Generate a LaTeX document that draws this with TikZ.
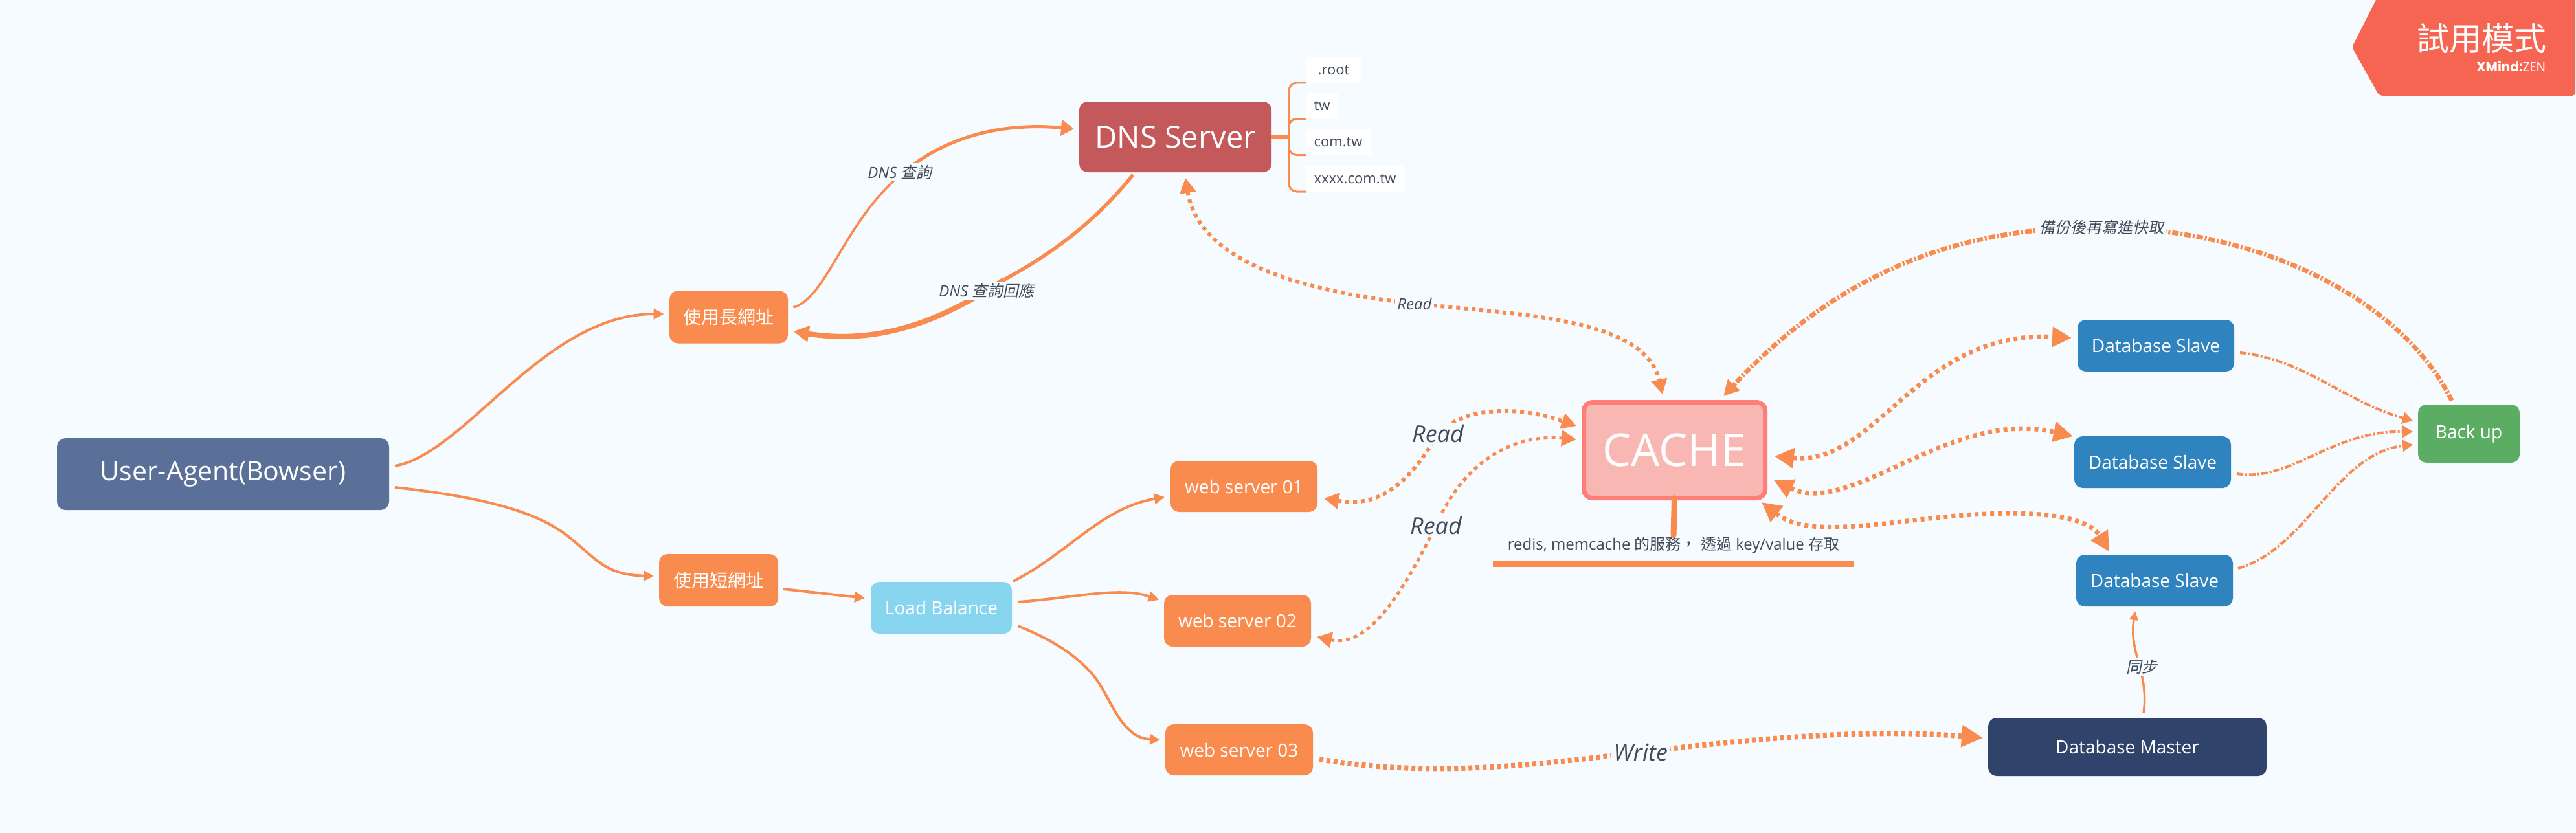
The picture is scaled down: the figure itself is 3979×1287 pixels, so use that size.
\documentclass[tikz,border=0pt]{standalone}
\usepackage{fontspec}
\usetikzlibrary{arrows.meta}
\setmainfont{Open Sans}
\newfontfamily\cjk{Noto Sans CJK TC}
\newfontfamily\cjkslant[FakeSlant=0.2]{Noto Sans CJK TC}
\newfontfamily\badgefont{Poppins}
\newcommand{\fsize}[1]{\fontsize{#1}{#1}\selectfont}
\definecolor{pagebg}{HTML}{F5FBFF}
\definecolor{linkc}{HTML}{F98B4F}
\definecolor{textc}{HTML}{414B58}
\definecolor{uac}{HTML}{5A7099}
\definecolor{dnsc}{HTML}{C4595C}
\definecolor{lbc}{HTML}{87D5EE}
\definecolor{slavec}{HTML}{2F84BF}
\definecolor{masterc}{HTML}{30436A}
\definecolor{backupc}{HTML}{5BAD63}
\definecolor{cachec}{HTML}{F8B7B2}
\definecolor{cacheb}{HTML}{FF7F78}
\definecolor{badgec}{HTML}{F56551}
\tikzset{
  box/.style={rounded corners=13pt,text=white,inner sep=0pt,outer sep=0pt,font=\fsize{28}},
  orangebox/.style={box,fill=linkc},
  slavebox/.style={box,fill=slavec,minimum width=242pt,minimum height=80pt},
  subbox/.style={fill=white,text=textc,inner sep=0pt,outer sep=0pt,minimum height=40pt,font=\fsize{22}},
  linklabel/.style={fill=pagebg,text=textc,inner sep=3pt,font=\fsize{24}\itshape},
  biglabel/.style={linklabel,font=\fsize{36}\itshape},
  thinlink/.style={draw=linkc,line width=4pt,-{Triangle[length=16pt,width=16pt]}},
  plainlink/.style={draw=linkc},
  dotlink/.style={draw=linkc,line width=7pt,dash pattern=on 6pt off 6pt,{Triangle[length=30pt,width=30pt]}-{Triangle[length=30pt,width=30pt]}},
  readlink/.style={draw=linkc,line width=5pt,dash pattern=on 6pt off 6pt,{Triangle[length=23pt,width=24pt]}-{Triangle[length=23pt,width=24pt]}},
  writelink/.style={draw=linkc,line width=8pt,dash pattern=on 6pt off 5pt,-{Triangle[length=33pt,width=32pt]}},
  dashdotlink/.style={draw=linkc,line width=4pt,dash pattern=on 10pt off 3pt on 3pt off 3pt,-{Triangle[length=16pt,width=18pt]}},
  branch/.style={draw=linkc,line width=3pt,rounded corners=12pt}
}
\begin{document}
\begin{tikzpicture}[x=1pt,y=-1pt]
  \fill[pagebg] (0,0) rectangle (3979,1287);
  \useasboundingbox (0,0) rectangle (3979,1287);

  \node[box,fill=uac,minimum width=513pt,minimum height=111pt,font=\fsize{41}] (ua) at (344.5,732.5) {User-Agent(Bowser)};
  \node[orangebox,minimum width=183pt,minimum height=81pt] (lurl) at (1125.5,490) {\cjk 使用長網址};
  \node[orangebox,minimum width=184pt,minimum height=81pt] (surl) at (1110,896.5) {\cjk 使用短網址};
  \node[box,fill=dnsc,minimum width=297pt,minimum height=109pt,font=\fsize{47}] (dns) at (1815.5,211.5) {DNS Server};
  \node[box,fill=lbc,minimum width=218pt,minimum height=80pt] (lb) at (1454,939) {Load Balance};
  \node[orangebox,minimum width=227pt,minimum height=79pt] (web1) at (1921.5,751.5) {web server 01};
  \node[orangebox,minimum width=227pt,minimum height=80pt] (web2) at (1911.5,959) {web server 02};
  \node[orangebox,minimum width=228pt,minimum height=79pt] (web3) at (1914,1158.5) {web server 03};
  \node[box,fill=cachec,draw=cacheb,line width=7pt,minimum width=280pt,minimum height=148pt,font=\fsize{70}] (cache) at (2586.5,695.5) {CACHE};
  \node[box,fill=masterc,minimum width=430pt,minimum height=90pt] (master) at (3286,1154) {Database Master};
  \node[box,fill=backupc,minimum width=157pt,minimum height=90pt] (backup) at (3813.5,670) {Back up};
  \foreach \n/\x/\y in {1/3330/534,2/3325/714,3/3328/897}
  {
    \node[slavebox] (slave\n) at (\x,\y) {Database Slave};
  }

  \coordinate (trunk) at ([xshift=27pt]dns.east);
  \draw[draw=linkc,line width=5pt] (dns.east) -- (trunk);
  \foreach \n/\t/\x/\y/\w in {root/.root/2060/108/86,tw/tw/2042/163.5/50,comtw/com.tw/2067/219.5/100,xxxx/xxxx.com.tw/2093/276/152}
  {
    \node[subbox,minimum width=\w pt] (\n) at (\x,\y) {\t};
    \draw[branch] (trunk) |- (\n.south west);
  }

  \draw[thinlink] ([shift={(9,-12.5)}]ua.east) .. controls (720,700) and (840,485) .. ([shift={(-8.5,-5)}]lurl.west);
  \draw[thinlink] ([shift={(9,20.5)}]ua.east) .. controls (700,763) and (810,780) .. (870,823) .. controls (920,860) and (930,888) .. ([shift={(-8,-6.5)}]surl.west);
  \draw[thinlink] ([shift={(8,13.5)}]surl.east) -- ([shift={(-9,-15)}]lb.west);
  \draw[thinlink] ([shift={(2,-41)}]lb.east) .. controls (1650,855) and (1700,785) .. ([shift={(-9,16.5)}]web1.west);
  \draw[thinlink] ([shift={(9,-9)}]lb.east) .. controls (1650,925) and (1730,905) .. ([shift={(-8,-32)}]web2.west);
  \draw[thinlink] ([shift={(9,28)}]lb.east) .. controls (1630,990) and (1665,1015) .. (1690,1045) .. controls (1715,1075) and (1730,1140) .. ([shift={(-8,-15.5)}]web3.west);
  % both DNS links get thicker towards their heads
  \draw[plainlink,line width=3.5pt] ([shift={(8.5,-15)}]lurl.east) .. controls (1276,460) and (1300,353) .. (1384,276);
  \draw[thinlink,line width=5pt,-{Triangle[length=20pt,width=24pt]}] (1384,276) .. controls (1440,225) and (1523,187) .. ([shift={(-8,-12.5)}]dns.west);
  \draw[plainlink,line width=5.5pt] ([shift={(-65.5,4)}]dns.south) .. controls (1690,345) and (1620,395) .. (1551,432);
  \draw[thinlink,line width=8pt,-{Triangle[length=24pt,width=24pt]}] (1551,432) .. controls (1470,485) and (1370,535) .. ([shift={(8.5,22)}]lurl.east);
  \draw[thinlink,line width=3.5pt,-{Triangle[length=14pt,width=13pt]}] ([shift={(25,-7)}]master.north) .. controls (3320,1040) and (3288,1010) .. ([shift={(-30,7)}]slave3.south);

  \draw[readlink,line width=6pt] ([shift={(15.5,9)}]dns.south) .. controls (1845,360) and (1910,440) .. (2185,469) .. controls (2350,487) and (2540,490) .. ([shift={(-18.5,-12.5)}]cache.north);
  \draw[readlink,line width=6pt] ([shift={(10,18.5)}]web1.east) .. controls (2120,783) and (2170,760) .. (2221,670) .. controls (2260,630) and (2340,625) .. ([shift={(-11.5,-37.5)}]cache.west);
  \draw[readlink] ([shift={(9,25)}]web2.east) .. controls (2110,1000) and (2160,930) .. (2218,812) .. controls (2260,715) and (2335,670) .. ([shift={(-11.5,-16.5)}]cache.west);
  \draw[dotlink] ([shift={(14.5,9.5)}]cache.east) .. controls (2900,720) and (2960,510) .. ([shift={(-9,-12)}]slave1.west);
  \draw[dotlink] ([shift={(13.5,46.5)}]cache.east) .. controls (2860,800) and (3010,630) .. ([shift={(-2,-40)}]slave2.west);
  \draw[dotlink] ([shift={(-5.5,80.5)}]cache.east) .. controls (2790,830) and (2890,810) .. (3000,799) .. controls (3110,788) and (3220,790) .. ([shift={(-70,-5)}]slave3.north);
  \draw[writelink] ([shift={(10,14.5)}]web3.east) .. controls (2200,1200) and (2350,1185) .. (2534,1162) .. controls (2700,1142) and (2880,1125) .. ([shift={(-8,-14)}]master.west);

  \draw[dashdotlink] ([shift={(9,11)}]slave1.east) .. controls (3560,555) and (3620,620) .. ([shift={(-8,-20)}]backup.west);
  \draw[dashdotlink] ([shift={(9,18)}]slave2.east) .. controls (3540,745) and (3600,665) .. ([shift={(-8,-3)}]backup.west);
  \draw[dashdotlink] ([shift={(8,-19)}]slave3.east) .. controls (3560,850) and (3610,700) .. ([shift={(-8,17)}]backup.west);
  \draw[dashdotlink,line width=7pt,-{Triangle[length=24pt,width=24pt]}] ([shift={(-26.5,-6)}]backup.north) .. controls (3720,480) and (3520,355) .. (3246,351) .. controls (3040,351) and (2850,410) .. ([shift={(75.5,-9.5)}]cache.north);

  \node[inner sep=0pt,minimum height=30pt,text=textc,font=\fsize{24}] (note) at (2585,842) {redis, memcache {\cjk 的服務，} {\cjk 透過} key/value {\cjk 存取}};
  \node[fill=linkc,inner sep=0pt,minimum width=558pt,minimum height=10pt] (noteline) at (2585,871) {};
  \draw[draw=linkc,line width=9pt,line cap=round] (cache.south) -- (note.north);

  \node[linklabel] (lblquery) at (1390,266) {DNS {\cjkslant 查詢}};
  \node[linklabel] (lblreply) at (1524,449) {DNS {\cjkslant 查詢回應}};
  \node[linklabel] (lblread) at (2185,469) {Read};
  \node[biglabel] (lblreadone) at (2221,670) {Read};
  \node[biglabel] (lblreadtwo) at (2218,812) {Read};
  \node[biglabel] (lblwrite) at (2534,1162) {Write};
  \node[linklabel] (lblbackup) at (3246,351) {\cjkslant 備份後再寫進快取};
  \node[linklabel] (lblsync) at (3308,1030) {\cjkslant 同步};

  \fill[badgec,rounded corners=5pt] (3675,-10) -- (3633,73) -- (3675,148) -- (3978,148) -- (3978,-10) -- cycle;
  \node[text=white,inner sep=0pt,anchor=east,font=\fsize{50}] (badgetitle) at (3934,60) {\cjk 試用模式};
  \node[text=white,inner sep=0pt,anchor=east,font=\fsize{20}] (badgebrand) at (3932,103) {\badgefont\bfseries XMind:{\mdseries ZEN}};
\end{tikzpicture}
\end{document}
